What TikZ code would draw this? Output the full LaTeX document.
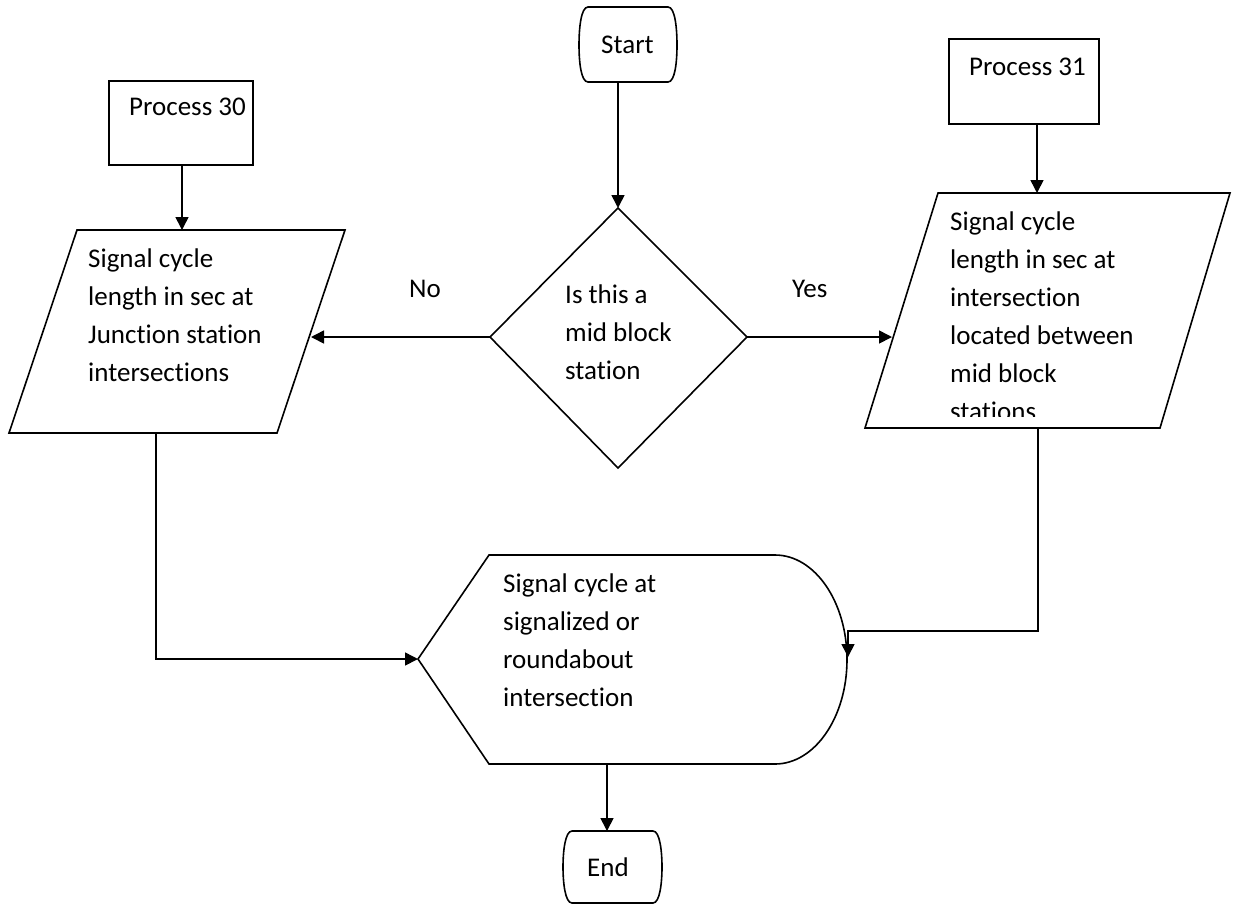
\documentclass[tikz,border=0pt]{standalone}
\usepackage{fontspec}
\setmainfont[Ligatures=NoCommon]{Carlito}
\usetikzlibrary{arrows.meta}
\newcommand\txtlines[1]{\vtop{\baselineskip=38pt\lineskiplimit=-100pt\lineskip=0pt #1}}
\begin{document}
\begin{tikzpicture}[x=1pt,y=-1pt,
  shapeline/.style={draw=black, line width=1.6pt, line join=miter},
  conn/.style={draw=black, line width=1.6pt, -{Triangle[length=13pt,width=13pt]}},
  lbl/.style={anchor=base west, inner sep=0pt, font=\fontsize{27}{38}\selectfont},
]
\useasboundingbox[fill=white] (0,0) rectangle (1241,906);

% ---------- Start terminator ----------
\draw[shapeline] (588,7) -- (668,7) .. controls (675,7) and (677,28) .. (677,45)
  .. controls (677,62) and (675,82) .. (668,82) -- (588,82)
  .. controls (581,82) and (579,62) .. (579,45)
  .. controls (579,28) and (581,7) .. (588,7) -- cycle;
\coordinate (startb) at (618,82);
\node[lbl] (starttxt) at (601,53) {Start};

% ---------- Decision diamond ----------
\draw[shapeline] (618,208) -- (747,337) -- (618,468) -- (490,337) -- cycle;
\coordinate (dtop) at (618,208);
\coordinate (dleft) at (490,337);
\coordinate (dright) at (747,337);
\node[lbl] (dtxt) at (565,303) {\txtlines{\hbox{Is this a}\hbox{mid block}\hbox{station}}};

% ---------- Process 30 ----------
\node[draw=black, line width=1.6pt, minimum width=144pt, minimum height=84pt,
      anchor=north west, inner sep=0pt] (p30) at (108,80) {};
\node[lbl] (p30txt) at (129,115) {Process 30};

% ---------- Process 31 ----------
\node[draw=black, line width=1.6pt, minimum width=150pt, minimum height=85pt,
      anchor=north west, inner sep=0pt] (p31) at (948,38) {};
\node[lbl] (p31txt) at (969,75) {Process 31};

% ---------- Left parallelogram ----------
\draw[shapeline] (77,230) -- (345,230) -- (277,433) -- (9,433) -- cycle;
\coordinate (lptop) at (182,230);
\coordinate (lpright) at (311,337);
\coordinate (lpbot) at (156,433);
\node[lbl] (lptxt) at (88,267) {\txtlines{\hbox{Signal cycle}\hbox{length in sec at}\hbox{Junction station}\hbox{intersections}}};

% ---------- Right parallelogram ----------
\draw[shapeline] (938,193) -- (1230,193) -- (1160,428) -- (865,428) -- cycle;
\coordinate (rptop) at (1037,193);
\coordinate (rpleft) at (892,337);
\coordinate (rpbot) at (1038,428);
\begin{scope}
  \clip (900,195) rectangle (1200,416);
  \node[lbl] (rptxt) at (950,230) {\txtlines{\hbox{Signal cycle}\hbox{length in sec at}\hbox{intersection}\hbox{located between}\hbox{mid block}\hbox{stations}}};
\end{scope}

% ---------- Display shape ----------
\draw[shapeline] (418,659) -- (489,555) -- (775,555)
  arc[start angle=-90, end angle=90, x radius=72, y radius=104.5]
  -- (489,764) -- cycle;
\coordinate (dsleft) at (418,659);
\coordinate (dsright) at (848,657);
\coordinate (dsbot) at (607,764);
\node[lbl] (dstxt) at (503,592) {\txtlines{\hbox{Signal cycle at}\hbox{signalized or}\hbox{roundabout}\hbox{intersection}}};

% ---------- End terminator ----------
\draw[shapeline] (572,831) -- (653,831) .. controls (660,831) and (662,852) .. (662,867)
  .. controls (662,882) and (660,903) .. (653,903) -- (572,903)
  .. controls (565,903) and (563,882) .. (563,867)
  .. controls (563,852) and (565,831) .. (572,831) -- cycle;
\coordinate (endtop) at (607,831);
\node[lbl] (endtxt) at (587,876) {End};

% ---------- Labels ----------
\node[lbl] (no) at (409,297) {No};
\node[lbl] (yes) at (792,297) {Yes};

% ---------- Connectors ----------
\draw[conn] (startb) -- (dtop);
\draw[conn] (dleft) -- (lpright);
\draw[conn] (dright) -- (rpleft);
\draw[conn] (p30.south -| lptop) -- (lptop);
\draw[conn] (p31.south -| rptop) -- (rptop);
\draw[conn] (lpbot) |- (dsleft);
\draw[conn] (rpbot) |- (848,631) -- (dsright);
\draw[conn] (dsbot) -- (endtop);
\end{tikzpicture}
\end{document}
